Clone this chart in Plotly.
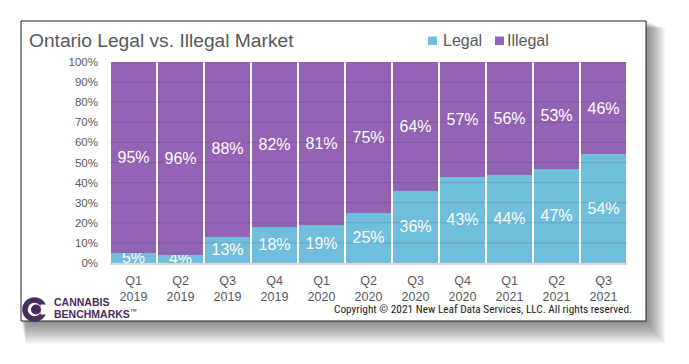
import plotly.graph_objects as go

# ---- data ----
quarters = ["Q1<br>2019", "Q2<br>2019", "Q3<br>2019", "Q4<br>2019",
            "Q1<br>2020", "Q2<br>2020", "Q3<br>2020", "Q4<br>2020",
            "Q1<br>2021", "Q2<br>2021", "Q3<br>2021"]
legal = [5, 4, 13, 18, 19, 25, 36, 43, 44, 47, 54]
illegal = [95, 96, 88, 82, 81, 75, 64, 57, 56, 53, 46]
series_names = ["Legal", "Illegal"]
ytick_vals = [0, 10, 20, 30, 40, 50, 60, 70, 80, 90, 100]
ytick_text = [f"{v}%" for v in ytick_vals]

# ---- layout geometry (screen pixels; page body has an 8px margin) ----
OFF = 8
W, H = 689 - 2 * OFF, 364 - 2 * OFF
L, R, T, B = 110, 627, 62, 263  # plot area in screen pixels


def px(x):
    return (x - L) / (R - L)


def py(y):
    return (B - y) / (B - T)


LEGAL_C = "#6FBEDC"
ILLEGAL_C = "#9363B5"
COLORS = [LEGAL_C, ILLEGAL_C]
GREY = "#595959"
FONT = "Liberation Sans, Arial, sans-serif"

fig = go.Figure()
for name, vals, col in zip(series_names, [legal, illegal], COLORS):
    fig.add_trace(go.Bar(
        x=quarters, y=vals, name=name, marker=dict(color=col, line=dict(width=0)),
        texttemplate="%{y}%", textposition="inside", insidetextanchor="middle",
        textangle=0, constraintext="none",
        textfont=dict(color="white", size=16, family=FONT),
        showlegend=False,
    ))

shapes = []
# drop shadow of the card
for i in range(1, 13):
    shapes.append(dict(type="rect", xref="paper", yref="paper", layer="below",
                       x0=px(21 + i * 0.4), x1=px(646 + i * 1.6),
                       y0=py(321 + i * 1.9), y1=py(21 + i * 0.6),
                       fillcolor="rgba(0,0,0,0.045)", line=dict(width=0)))
# card
shapes.append(dict(type="rect", xref="paper", yref="paper", layer="below",
                   x0=px(21), x1=px(646), y0=py(321), y1=py(21),
                   fillcolor="white", line=dict(color="#222222", width=1)))
# gridlines drawn above the bars
for v in ytick_vals[1:]:
    shapes.append(dict(type="line", xref="paper", yref="y", layer="above",
                       x0=0, x1=1, y0=v, y1=v,
                       line=dict(color="rgba(60,60,60,0.18)", width=1)))
# logo: ring with opening and centre dot
LOGO = "#4A2C5E"
cx, cy = 34.5, 309.5
shapes.append(dict(type="circle", xref="paper", yref="paper", layer="above",
                   x0=px(cx - 9.5), x1=px(cx + 9.5), y0=py(cy + 9.5), y1=py(cy - 9.5),
                   line=dict(color=LOGO, width=5.5), fillcolor="rgba(0,0,0,0)"))
shapes.append(dict(type="rect", xref="paper", yref="paper", layer="above",
                   x0=px(cx + 6), x1=px(cx + 14), y0=py(cy + 5), y1=py(cy - 5),
                   fillcolor="white", line=dict(width=0)))
shapes.append(dict(type="circle", xref="paper", yref="paper", layer="above",
                   x0=px(cx + 1.5 - 5), x1=px(cx + 1.5 + 5), y0=py(cy + 5), y1=py(cy - 5),
                   fillcolor=LOGO, line=dict(width=0)))

annotations = [
    dict(text="Ontario Legal vs. Illegal Market", xref="paper", yref="paper",
         x=px(27), y=py(41), xanchor="left", yanchor="middle", showarrow=False,
         font=dict(size=19.2, color=GREY, family=FONT)),
    dict(text="<b>CANNABIS</b>", xref="paper", yref="paper",
         x=px(51.5), y=py(302), xanchor="left", yanchor="middle", showarrow=False,
         font=dict(size=10.5, color=LOGO, family=FONT)),
    dict(text="<b>BENCHMARKS</b><sup>™</sup>", xref="paper", yref="paper",
         x=px(51.5), y=py(313), xanchor="left", yanchor="middle", showarrow=False,
         font=dict(size=10.5, color=LOGO, family=FONT)),
    dict(text="Copyright © 2021 New Leaf Data Services, LLC. All rights reserved.",
         xref="paper", yref="paper", x=px(634), y=py(309), xanchor="right", yanchor="middle",
         showarrow=False,
         font=dict(size=11.3, color="#1a1a1a",
                   family="Liberation Sans Narrow, Arial Narrow, Roboto Condensed, Liberation Sans")),
]

# manual legend (square swatch + label)
legend_sq_x = [428, 495]
legend_tx_x = [441, 505]
for name, col, sx, tx in zip(series_names, COLORS, legend_sq_x, legend_tx_x):
    shapes.append(dict(type="rect", xref="paper", yref="paper", layer="above",
                       x0=px(sx), x1=px(sx + 9), y0=py(45), y1=py(36.5),
                       fillcolor=col, line=dict(width=0)))
    annotations.append(dict(text=name, xref="paper", yref="paper", x=px(tx), y=py(40.5),
                            xanchor="left", yanchor="middle", showarrow=False,
                            font=dict(size=16, color=GREY, family=FONT)))

fig.update_layout(
    width=W, height=H,
    margin=dict(l=L - OFF, r=W - (R - OFF), t=T - OFF, b=H - (B - OFF), autoexpand=False),
    paper_bgcolor="white", plot_bgcolor="rgba(0,0,0,0)",
    barmode="stack", bargap=0.055,
    showlegend=False,
    shapes=shapes, annotations=annotations,
    font=dict(family=FONT, color=GREY),
)
fig.update_yaxes(range=[0, 100], tickvals=ytick_vals, ticktext=ytick_text,
                 showgrid=False, zeroline=False, showline=False,
                 tickfont=dict(size=11.5, color=GREY, family=FONT), ticklabelstandoff=11)
fig.update_xaxes(showgrid=False, showline=True, linecolor="#D9D9D9", linewidth=2,
                 tickfont=dict(size=12.5, color=GREY, family=FONT), ticks="",
                 ticklabelstandoff=5)

fig.write_html("out.html")
